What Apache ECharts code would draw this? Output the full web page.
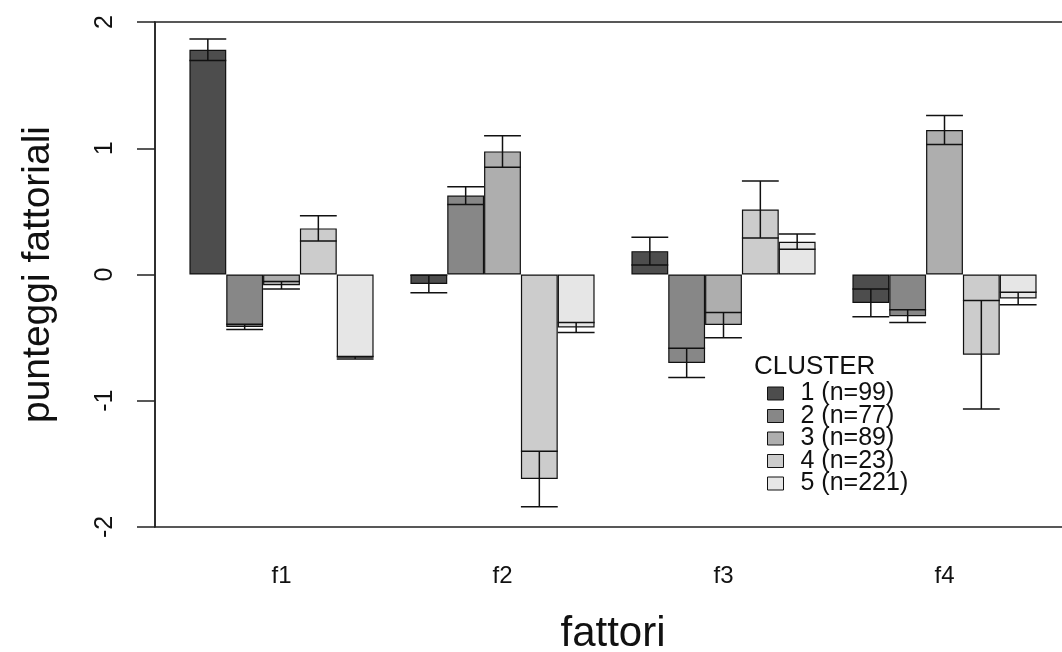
<!DOCTYPE html>
<html>
<head>
<meta charset="utf-8">
<script src="https://cdn.jsdelivr.net/npm/echarts@6/dist/echarts.min.js"></script>
<style>html,body{margin:0;padding:0;background:#fff}#c{width:1062px;height:652px}</style>
</head>
<body>
<div id="c"></div>
<script>
// ---- data ----
const factors = ['f1', 'f2', 'f3', 'f4'];
const clusters = ['1 (n=99)', '2 (n=77)', '3 (n=89)', '4 (n=23)', '5 (n=221)'];
const yTicks = [-2, -1, 0, 1, 2];
// mean factor scores per cluster (f1..f4)
const mean1 = [1.78, -0.075, 0.185, -0.225];
const mean2 = [-0.415, 0.625, -0.70, -0.33];
const mean3 = [-0.085, 0.975, -0.40, 1.145];
const mean4 = [0.365, -1.62, 0.515, -0.635];
const mean5 = [-0.66, -0.42, 0.26, -0.19];
// error half-widths per cluster (f1..f4)
const err1 = [0.085, 0.07, 0.11, 0.11];
const err2 = [0.02, 0.07, 0.115, 0.05];
const err3 = [0.03, 0.125, 0.10, 0.115];
const err4 = [0.10, 0.22, 0.225, 0.43];
const err5 = [0.01, 0.04, 0.06, 0.05];

const means = [mean1, mean2, mean3, mean4, mean5];
const errs = [err1, err2, err3, err4, err5];
const colors = ['#4D4D4D', '#878787', '#AEAEAE', '#CCCCCC', '#E6E6E6'];
const FONT = 'Liberation Sans, Arial, sans-serif';
const nClusters = clusters.length;
const catGapFrac = 1 / (nClusters + 1);

const errData = [];
means.forEach((m, ci) => m.forEach((v, fi) => {
  errData.push([fi, ci, v - errs[ci][fi], v + errs[ci][fi]]);
}));

const barSeries = clusters.map((name, ci) => ({
  name: name,
  type: 'bar',
  xAxisIndex: 0, yAxisIndex: 0,
  data: means[ci],
  barGap: '0%',
  barCategoryGap: (catGapFrac * 100) + '%',
  itemStyle: { color: colors[ci], borderColor: '#111', borderWidth: 1.2 },
  z: 2
}));

const errSeries = {
  type: 'custom',
  xAxisIndex: 0, yAxisIndex: 0,
  z: 5,
  encode: { x: 0, y: [2, 3] },
  data: errData,
  renderItem: function (params, api) {
    const cat = api.value(0), ci = api.value(1);
    const band = api.size([1, 0])[0];
    const bw = band * (1 - catGapFrac) / nClusters;
    const cx = api.coord([cat, 0])[0] + (ci - (nClusters - 1) / 2) * bw;
    const yl = api.coord([cat, api.value(2)])[1];
    const yh = api.coord([cat, api.value(3)])[1];
    const st = { stroke: '#111', lineWidth: 1.5 };
    return {
      type: 'group',
      children: [
        { type: 'line', shape: { x1: cx, y1: yl, x2: cx, y2: yh }, style: st },
        { type: 'line', shape: { x1: cx - bw / 2, y1: yl, x2: cx + bw / 2, y2: yl }, style: st },
        { type: 'line', shape: { x1: cx - bw / 2, y1: yh, x2: cx + bw / 2, y2: yh }, style: st }
      ]
    };
  }
};

const chart = echarts.init(document.getElementById('c'), null, { renderer: 'canvas' });
chart.setOption({
  animation: false,
  backgroundColor: '#fff',
  textStyle: { fontFamily: FONT },
  grid: [
    { left: 171, top: 22, width: 884, height: 505, outerBoundsMode: 'none', containLabel: false },
    { left: 155, top: 22, width: 940, height: 505, outerBoundsMode: 'none', containLabel: false,
      show: true, borderColor: '#222', borderWidth: 1.5, backgroundColor: 'transparent' }
  ],
  xAxis: [
    {
      type: 'category', gridIndex: 0, data: factors,
      axisLine: { show: false }, axisTick: { show: false },
      axisLabel: { fontSize: 24, color: '#111', margin: 37, fontFamily: FONT },
      name: 'fattori', nameLocation: 'middle', nameGap: 86,
      nameTextStyle: { fontSize: 42, color: '#111', fontFamily: FONT }
    },
    { type: 'value', gridIndex: 1, show: false, min: 0, max: 1 }
  ],
  yAxis: [
    { type: 'value', gridIndex: 0, min: yTicks[0], max: yTicks[yTicks.length - 1], interval: 1, show: false },
    {
      type: 'value', gridIndex: 1, min: yTicks[0], max: yTicks[yTicks.length - 1], interval: 1,
      splitLine: { show: false },
      axisLine: { show: true, lineStyle: { color: '#222', width: 1.5 } },
      axisTick: { show: true, length: 18, lineStyle: { color: '#222', width: 1.5 } },
      axisLabel: { rotate: 90, fontSize: 25, color: '#111', margin: 37, fontFamily: FONT },
      name: 'punteggi fattoriali', nameLocation: 'middle', nameGap: 97,
      nameTextStyle: { fontSize: 39, color: '#111', fontFamily: FONT }
    }
  ],
  legend: {
    data: clusters,
    orient: 'vertical',
    left: 762, top: 376,
    itemWidth: 16, itemHeight: 13, itemGap: -2.5,
    icon: 'rect',
    itemStyle: { borderColor: '#111', borderWidth: 1 },
    textStyle: { fontSize: 25, color: '#111', padding: [0, 0, 0, 12], fontFamily: FONT },
    selectedMode: false
  },
  graphic: [
    { type: 'text', left: 754, top: 354, style: { text: 'CLUSTER', fontSize: 26, fill: '#111', fontFamily: FONT } }
  ],
  series: barSeries.concat([errSeries])
});
</script>
</body>
</html>
